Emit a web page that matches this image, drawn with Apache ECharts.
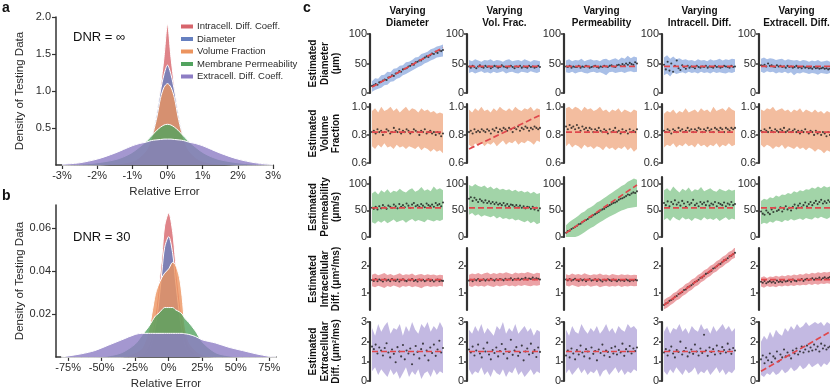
<!DOCTYPE html>
<html>
<head>
<meta charset="utf-8">
<script src="https://cdn.jsdelivr.net/npm/echarts@6/dist/echarts.min.js"></script>
<style>
  html, body { margin: 0; padding: 0; background: #fff; }
  #chart { width: 830px; height: 391px; }
</style>
</head>
<body>
<div id="chart"></div>
<script>
// ---- panel a / b : error densities ----
const seriesNames = ['Intracell. Diff. Coeff.', 'Diameter', 'Volume Fraction', 'Membrane Permeability', 'Extracell. Diff. Coeff.'];

const aX = [-3, -2.5, -2, -1.5, -1.25, -1, -0.8, -0.6, -0.5, -0.4, -0.3, -0.2, -0.1, 0, 0.1, 0.2, 0.3, 0.4, 0.5, 0.6, 0.8, 1, 1.25, 1.5, 2, 2.5, 3];
const aIntra = [0, 0, 0, 0.01, 0.02, 0.04, 0.09, 0.2, 0.32, 0.48, 0.72, 1.05, 1.45, 1.9, 1.45, 1.05, 0.72, 0.48, 0.32, 0.2, 0.09, 0.04, 0.02, 0.01, 0, 0, 0];
const aDiam = [0, 0.001, 0.003, 0.012, 0.025, 0.05, 0.1, 0.2, 0.32, 0.48, 0.72, 1.0, 1.22, 1.35, 1.22, 1.0, 0.72, 0.48, 0.32, 0.2, 0.1, 0.05, 0.025, 0.012, 0.003, 0.001, 0];
const aVol = [0, 0.002, 0.004, 0.012, 0.025, 0.05, 0.1, 0.2, 0.3, 0.45, 0.65, 0.9, 1.05, 1.1, 1.05, 0.9, 0.65, 0.45, 0.3, 0.2, 0.1, 0.05, 0.025, 0.012, 0.004, 0.002, 0];
const aPerm = [0, 0.01, 0.03, 0.07, 0.11, 0.17, 0.24, 0.32, 0.37, 0.42, 0.47, 0.51, 0.54, 0.55, 0.54, 0.51, 0.47, 0.42, 0.37, 0.32, 0.24, 0.17, 0.11, 0.07, 0.03, 0.01, 0];
const aExtra = [0.01, 0.03, 0.08, 0.16, 0.21, 0.26, 0.29, 0.31, 0.325, 0.335, 0.34, 0.345, 0.35, 0.35, 0.35, 0.345, 0.34, 0.335, 0.325, 0.31, 0.29, 0.26, 0.21, 0.16, 0.08, 0.03, 0.01];

const bX = [-80, -75, -65, -55, -45, -35, -25, -20, -15, -12, -10, -8, -5, -3, 0, 3, 5, 8, 10, 12, 15, 20, 25, 35, 45, 55, 65, 75, 80];
const bIntra = [0, 0, 0, 0, 0, 0, 0, 0.001, 0.005, 0.012, 0.02, 0.03, 0.047, 0.061, 0.067, 0.058, 0.045, 0.028, 0.018, 0.011, 0.005, 0.001, 0, 0, 0, 0, 0, 0, 0];
const bDiam = [0, 0, 0, 0, 0, 0, 0, 0.001, 0.003, 0.008, 0.014, 0.022, 0.04, 0.051, 0.056, 0.048, 0.036, 0.02, 0.012, 0.006, 0.002, 0.001, 0, 0, 0, 0, 0, 0, 0];
const bVol = [0, 0, 0, 0, 0, 0, 0.002, 0.004, 0.012, 0.022, 0.029, 0.033, 0.037, 0.039, 0.041, 0.044, 0.043, 0.037, 0.028, 0.015, 0.007, 0.003, 0.001, 0, 0, 0, 0, 0, 0];
const bPerm = [0, 0, 0, 0, 0.0005, 0.002, 0.006, 0.01, 0.014, 0.017, 0.019, 0.02, 0.022, 0.023, 0.023, 0.023, 0.022, 0.021, 0.02, 0.018, 0.016, 0.012, 0.007, 0.002, 0.0005, 0, 0, 0, 0];
const bExtra = [0, 0.0005, 0.0015, 0.003, 0.0055, 0.008, 0.0105, 0.011, 0.011, 0.011, 0.011, 0.011, 0.011, 0.011, 0.011, 0.011, 0.011, 0.011, 0.011, 0.0108, 0.0105, 0.0095, 0.008, 0.0065, 0.0045, 0.003, 0.0015, 0.0003, 0];

const aTicksX = [-3, -2, -1, 0, 1, 2, 3];
const aTicksY = [0.5, 1.0, 1.5, 2.0];
const bTicksX = [-75, -50, -25, 0, 25, 50, 75];
const bTicksY = [0.02, 0.04, 0.06];

// ---- panel c : estimated vs. varied parameter ----
const colNames = ['Diameter', 'Vol. Frac.', 'Permeability', 'Intracell. Diff.', 'Extracell. Diff.'];
const rowLabels = [
  ['Estimated', 'Diameter', '(μm)'],
  ['Estimated', 'Volume', 'Fraction'],
  ['Estimated', 'Permeability', '(μm/s)'],
  ['Estimated', 'Intracellular', 'Diff. (μm²/ms)'],
  ['Estimated', 'Extracellular', 'Diff. (μm²/ms)']
];
const rowMin = [0, 0.6, 0, 0.37, 0];
const rowMax = [100, 1.02, 113, 2.67, 3];
const rowTicks = [[0, 50, 100], [0.6, 0.8, 1.0], [0, 50, 100], [1, 2], [0, 1, 2, 3]];
const truthConst = [45, 0.82, 55, 1.5, 1.5];
const colRange = [[10, 77], [0.70, 0.94], [7.5, 98], [0.55, 2.5], [0.5, 2.5]];

// estimated diameter, one list per varied column
const diamPts = [
  [12, 13, 15, 14, 18, 19, 21, 23, 22, 26, 27, 30, 29, 33, 34, 37, 36, 40, 41, 42, 45, 46, 49, 48, 52, 53, 55, 55, 58, 60, 62, 61, 64, 67, 66, 70, 68, 72, 71, 73],
  [45, 43, 46, 44, 42, 45, 47, 44, 43, 46, 44, 45, 42, 44, 46, 45, 43, 44, 47, 45, 44, 43, 45, 46, 44, 42, 45, 44, 46, 43, 45, 44, 43, 46, 44, 45, 43, 44, 46, 44],
  [45, 44, 46, 43, 45, 44, 44, 46, 43, 45, 44, 46, 45, 43, 44, 45, 46, 44, 43, 45, 44, 46, 45, 44, 46, 47, 45, 44, 47, 48, 46, 49, 47, 50, 48, 51, 49, 48, 52, 50],
  [48, 40, 53, 38, 50, 36, 46, 55, 42, 39, 47, 44, 41, 46, 43, 45, 44, 42, 46, 44, 43, 45, 44, 46, 43, 45, 44, 43, 46, 44, 45, 43, 44, 46, 45, 44, 43, 46, 44, 45],
  [47, 46, 48, 45, 50, 46, 47, 45, 44, 47, 45, 46, 44, 45, 43, 46, 44, 45, 43, 44, 46, 43, 44, 42, 45, 43, 44, 42, 43, 41, 44, 42, 43, 41, 42, 43, 41, 42, 40, 41]
];
const diamHi = [
  [20, 25, 24, 30, 31, 36, 35, 41, 42, 46, 47, 52, 53, 56, 60, 61, 66, 68, 70, 74, 76, 79, 80, 82],
  [56, 54, 57, 55, 53, 56, 55, 57, 54, 56, 55, 53, 56, 57, 54, 55, 56, 54, 57, 55, 53, 56, 55, 54],
  [55, 57, 54, 56, 55, 58, 54, 56, 57, 55, 56, 54, 57, 58, 55, 57, 59, 56, 60, 58, 63, 59, 62, 60],
  [60, 64, 58, 62, 57, 59, 56, 57, 55, 56, 54, 57, 55, 56, 54, 57, 55, 56, 58, 55, 57, 56, 58, 57],
  [58, 60, 57, 59, 58, 56, 57, 58, 55, 57, 56, 55, 56, 54, 56, 55, 53, 55, 54, 56, 53, 54, 55, 53]
];
const diamLo = [
  [2, 5, 7, 9, 13, 14, 19, 20, 24, 26, 30, 32, 35, 38, 41, 44, 46, 50, 52, 55, 57, 60, 61, 62],
  [34, 36, 33, 35, 37, 34, 35, 33, 36, 34, 35, 37, 33, 35, 36, 34, 33, 36, 35, 34, 37, 35, 34, 36],
  [35, 34, 36, 33, 35, 36, 34, 33, 35, 36, 34, 35, 33, 30, 35, 36, 34, 35, 36, 34, 36, 37, 35, 36],
  [30, 33, 28, 35, 32, 34, 35, 33, 36, 34, 35, 33, 36, 34, 35, 33, 36, 34, 35, 34, 33, 35, 34, 36],
  [36, 34, 37, 35, 36, 33, 35, 34, 36, 33, 35, 30, 34, 33, 35, 34, 32, 34, 33, 31, 34, 33, 32, 34]
];

// estimated volume fraction
const volPts = [
  [0.82, 0.83, 0.81, 0.84, 0.82, 0.83, 0.80, 0.82, 0.84, 0.83, 0.81, 0.82, 0.85, 0.83, 0.82, 0.84, 0.81, 0.83, 0.82, 0.84, 0.83, 0.81, 0.82, 0.84, 0.83, 0.82, 0.80, 0.83, 0.82, 0.84, 0.81, 0.82, 0.83, 0.81, 0.82, 0.80, 0.82, 0.81, 0.79, 0.81],
  [0.82, 0.83, 0.81, 0.84, 0.82, 0.83, 0.82, 0.84, 0.83, 0.82, 0.84, 0.83, 0.81, 0.84, 0.83, 0.85, 0.82, 0.84, 0.83, 0.85, 0.84, 0.83, 0.85, 0.84, 0.82, 0.85, 0.84, 0.86, 0.83, 0.85, 0.84, 0.86, 0.85, 0.83, 0.85, 0.84, 0.86, 0.85, 0.84, 0.85],
  [0.86, 0.84, 0.87, 0.85, 0.86, 0.84, 0.87, 0.85, 0.83, 0.86, 0.84, 0.85, 0.83, 0.85, 0.84, 0.82, 0.84, 0.83, 0.85, 0.83, 0.82, 0.84, 0.83, 0.81, 0.84, 0.82, 0.83, 0.85, 0.82, 0.83, 0.81, 0.84, 0.82, 0.83, 0.81, 0.84, 0.82, 0.83, 0.82, 0.84],
  [0.83, 0.82, 0.84, 0.83, 0.81, 0.84, 0.83, 0.82, 0.85, 0.83, 0.84, 0.82, 0.83, 0.85, 0.83, 0.84, 0.82, 0.84, 0.83, 0.85, 0.84, 0.82, 0.84, 0.83, 0.85, 0.83, 0.84, 0.82, 0.85, 0.84, 0.83, 0.85, 0.84, 0.82, 0.85, 0.84, 0.83, 0.85, 0.84, 0.85],
  [0.83, 0.82, 0.84, 0.83, 0.82, 0.85, 0.83, 0.82, 0.84, 0.83, 0.82, 0.84, 0.83, 0.85, 0.82, 0.83, 0.84, 0.82, 0.83, 0.84, 0.82, 0.83, 0.81, 0.83, 0.82, 0.84, 0.82, 0.81, 0.83, 0.82, 0.80, 0.83, 0.81, 0.82, 0.80, 0.82, 0.81, 0.79, 0.82, 0.80]
];
const volHi = [
  [0.97, 0.99, 0.96, 1.0, 0.97, 0.98, 1.0, 0.97, 0.99, 0.96, 0.98, 1.0, 0.97, 0.99, 0.98, 0.96, 0.99, 0.97, 0.98, 0.96, 0.97, 0.95, 0.96, 0.95],
  [0.98, 0.96, 0.99, 0.97, 1.0, 0.97, 0.98, 0.96, 0.99, 0.97, 1.0, 0.98, 0.97, 0.99, 0.97, 1.0, 0.98, 0.97, 0.99, 0.98, 1.0, 0.97, 0.99, 0.98],
  [0.99, 1.0, 0.98, 1.0, 0.99, 0.97, 1.0, 0.98, 0.99, 0.97, 0.98, 1.0, 0.97, 0.98, 0.96, 0.98, 0.97, 0.99, 0.96, 0.98, 0.97, 0.96, 0.98, 0.97],
  [0.95, 0.97, 0.96, 0.98, 0.95, 0.97, 0.96, 0.99, 0.96, 0.97, 0.98, 0.96, 0.99, 0.97, 0.98, 0.96, 1.0, 0.97, 0.98, 0.99, 0.97, 1.0, 0.98, 0.97],
  [0.98, 0.97, 0.99, 0.98, 1.0, 0.97, 0.98, 0.99, 0.97, 0.98, 0.96, 0.98, 0.97, 0.99, 0.96, 0.98, 0.97, 0.96, 0.98, 0.96, 0.97, 0.95, 0.97, 0.96]
];
const volLo = [
  [0.72, 0.70, 0.73, 0.71, 0.74, 0.71, 0.72, 0.70, 0.73, 0.71, 0.72, 0.70, 0.72, 0.71, 0.70, 0.72, 0.69, 0.71, 0.70, 0.68, 0.70, 0.68, 0.69, 0.67],
  [0.73, 0.71, 0.74, 0.72, 0.75, 0.72, 0.74, 0.73, 0.75, 0.72, 0.74, 0.76, 0.73, 0.75, 0.74, 0.76, 0.73, 0.75, 0.74, 0.76, 0.75, 0.73, 0.76, 0.75],
  [0.72, 0.74, 0.71, 0.73, 0.72, 0.70, 0.73, 0.71, 0.72, 0.70, 0.72, 0.71, 0.69, 0.72, 0.70, 0.71, 0.69, 0.71, 0.70, 0.72, 0.69, 0.71, 0.68, 0.70],
  [0.71, 0.73, 0.72, 0.74, 0.71, 0.73, 0.72, 0.74, 0.72, 0.73, 0.71, 0.74, 0.72, 0.73, 0.71, 0.73, 0.72, 0.74, 0.71, 0.73, 0.72, 0.74, 0.72, 0.73],
  [0.73, 0.71, 0.73, 0.72, 0.70, 0.72, 0.71, 0.73, 0.70, 0.72, 0.71, 0.70, 0.72, 0.70, 0.71, 0.69, 0.71, 0.70, 0.68, 0.70, 0.69, 0.67, 0.69, 0.68]
];

// estimated membrane permeability
const permPts = [
  [55, 53, 57, 52, 58, 54, 60, 56, 53, 59, 57, 55, 61, 58, 54, 62, 57, 60, 56, 63, 59, 55, 61, 64, 58, 60, 57, 62, 59, 56, 63, 60, 58, 61, 57, 64, 60, 62, 58, 65],
  [72, 75, 68, 74, 70, 66, 71, 68, 65, 69, 64, 67, 63, 66, 62, 65, 61, 63, 60, 64, 59, 62, 58, 61, 60, 57, 60, 56, 59, 55, 58, 54, 57, 56, 53, 57, 52, 55, 50, 54],
  [8, 11, 12, 15, 17, 19, 21, 24, 25, 28, 30, 32, 34, 37, 38, 41, 43, 45, 47, 50, 52, 53, 56, 58, 60, 62, 64, 65, 67, 70, 72, 73, 75, 77, 80, 79, 82, 84, 83, 86],
  [64, 60, 67, 58, 66, 62, 69, 61, 65, 59, 68, 63, 57, 66, 61, 64, 70, 60, 63, 58, 66, 62, 65, 60, 67, 59, 63, 61, 66, 58, 64, 62, 60, 65, 58, 63, 61, 66, 60, 62],
  [48, 44, 42, 50, 46, 43, 52, 47, 55, 49, 51, 56, 48, 53, 58, 52, 55, 50, 57, 61, 54, 59, 63, 56, 60, 65, 58, 62, 66, 60, 64, 68, 62, 66, 70, 63, 67, 64, 69, 66]
];
const permHi = [
  [82, 86, 80, 88, 84, 90, 83, 87, 85, 91, 86, 84, 89, 92, 85, 88, 94, 87, 90, 86, 95, 89, 92, 88],
  [98, 95, 100, 96, 94, 97, 92, 95, 90, 93, 89, 91, 88, 90, 86, 89, 85, 87, 84, 86, 82, 85, 81, 83],
  [22, 28, 32, 36, 40, 45, 48, 53, 56, 60, 65, 68, 72, 76, 80, 84, 88, 92, 96, 99, 104, 107, 110, 108],
  [88, 92, 86, 95, 89, 84, 91, 87, 93, 85, 90, 88, 94, 86, 89, 92, 87, 85, 91, 88, 86, 90, 87, 89],
  [68, 72, 70, 75, 73, 78, 76, 80, 79, 83, 81, 86, 84, 88, 86, 90, 89, 93, 91, 95, 92, 96, 93, 95]
];
const permLo = [
  [28, 25, 30, 27, 31, 26, 29, 33, 28, 30, 32, 27, 31, 34, 29, 32, 30, 28, 33, 31, 29, 32, 30, 33],
  [42, 45, 40, 43, 38, 41, 39, 37, 40, 35, 38, 34, 36, 33, 35, 31, 33, 30, 28, 31, 26, 29, 24, 27],
  [0, 0, 0, 0, 2, 5, 9, 13, 17, 20, 24, 28, 31, 35, 38, 41, 44, 47, 50, 52, 54, 55, 56, 57],
  [32, 36, 30, 38, 34, 31, 37, 33, 35, 30, 36, 34, 31, 37, 33, 35, 32, 36, 30, 34, 37, 32, 35, 33],
  [24, 27, 25, 29, 27, 31, 30, 28, 32, 30, 34, 31, 33, 35, 32, 36, 34, 33, 37, 35, 38, 36, 34, 37]
];

// estimated intracellular diffusivity
const intraPts = [
  [1.48, 1.45, 1.52, 1.44, 1.50, 1.47, 1.43, 1.51, 1.46, 1.49, 1.44, 1.52, 1.47, 1.45, 1.50, 1.43, 1.48, 1.51, 1.46, 1.44, 1.49, 1.47, 1.52, 1.45, 1.48, 1.43, 1.50, 1.46, 1.49, 1.44, 1.47, 1.51, 1.45, 1.48, 1.43, 1.47, 1.50, 1.44, 1.46, 1.45],
  [1.46, 1.49, 1.44, 1.50, 1.47, 1.52, 1.45, 1.48, 1.51, 1.46, 1.50, 1.47, 1.53, 1.49, 1.46, 1.51, 1.48, 1.52, 1.50, 1.47, 1.53, 1.49, 1.51, 1.55, 1.48, 1.52, 1.50, 1.54, 1.49, 1.53, 1.51, 1.56, 1.50, 1.54, 1.52, 1.57, 1.51, 1.55, 1.53, 1.50],
  [1.50, 1.47, 1.52, 1.46, 1.49, 1.53, 1.48, 1.45, 1.51, 1.47, 1.50, 1.44, 1.49, 1.52, 1.46, 1.48, 1.51, 1.45, 1.50, 1.47, 1.43, 1.49, 1.46, 1.51, 1.48, 1.45, 1.50, 1.47, 1.44, 1.49, 1.46, 1.48, 1.45, 1.50, 1.47, 1.44, 1.48, 1.46, 1.49, 1.47],
  [0.56, 0.61, 0.64, 0.71, 0.74, 0.79, 0.86, 0.89, 0.96, 0.99, 1.04, 1.11, 1.13, 1.21, 1.24, 1.29, 1.34, 1.41, 1.44, 1.49, 1.56, 1.58, 1.64, 1.71, 1.74, 1.79, 1.83, 1.91, 1.94, 1.99, 2.06, 2.08, 2.14, 2.21, 2.23, 2.29, 2.36, 2.38, 2.44, 2.49],
  [1.42, 1.38, 1.45, 1.36, 1.41, 1.44, 1.39, 1.43, 1.37, 1.46, 1.41, 1.44, 1.40, 1.47, 1.43, 1.45, 1.48, 1.42, 1.50, 1.46, 1.44, 1.49, 1.47, 1.52, 1.45, 1.50, 1.53, 1.48, 1.51, 1.55, 1.49, 1.54, 1.52, 1.57, 1.50, 1.55, 1.58, 1.53, 1.56, 1.59]
];
const intraHi = [
  [1.68, 1.72, 1.66, 1.70, 1.74, 1.67, 1.71, 1.65, 1.69, 1.73, 1.66, 1.70, 1.68, 1.72, 1.65, 1.69, 1.71, 1.66, 1.70, 1.67, 1.69, 1.65, 1.68, 1.66],
  [1.68, 1.72, 1.70, 1.74, 1.69, 1.73, 1.76, 1.70, 1.74, 1.71, 1.75, 1.72, 1.77, 1.73, 1.70, 1.76, 1.72, 1.75, 1.73, 1.78, 1.74, 1.71, 1.75, 1.73],
  [1.70, 1.66, 1.72, 1.68, 1.71, 1.67, 1.73, 1.69, 1.66, 1.70, 1.68, 1.72, 1.67, 1.69, 1.65, 1.71, 1.68, 1.66, 1.70, 1.67, 1.69, 1.66, 1.68, 1.67],
  [0.74, 0.82, 0.88, 0.99, 1.05, 1.16, 1.22, 1.33, 1.39, 1.50, 1.56, 1.67, 1.73, 1.84, 1.90, 2.01, 2.07, 2.18, 2.24, 2.35, 2.41, 2.52, 2.58, 2.70],
  [1.58, 1.62, 1.56, 1.61, 1.59, 1.64, 1.60, 1.65, 1.62, 1.67, 1.64, 1.69, 1.66, 1.71, 1.68, 1.73, 1.70, 1.75, 1.72, 1.77, 1.74, 1.78, 1.76, 1.79]
];
const intraLo = [
  [1.25, 1.21, 1.27, 1.23, 1.19, 1.26, 1.22, 1.28, 1.24, 1.20, 1.26, 1.23, 1.27, 1.21, 1.25, 1.22, 1.18, 1.24, 1.26, 1.22, 1.25, 1.23, 1.27, 1.24],
  [1.26, 1.22, 1.28, 1.24, 1.27, 1.23, 1.29, 1.25, 1.22, 1.28, 1.24, 1.27, 1.30, 1.25, 1.28, 1.24, 1.29, 1.26, 1.30, 1.27, 1.25, 1.29, 1.27, 1.30],
  [1.28, 1.24, 1.30, 1.26, 1.22, 1.27, 1.25, 1.29, 1.23, 1.26, 1.28, 1.21, 1.25, 1.27, 1.23, 1.26, 1.24, 1.28, 1.22, 1.26, 1.24, 1.27, 1.25, 1.26],
  [0.40, 0.45, 0.55, 0.62, 0.72, 0.78, 0.89, 0.95, 1.06, 1.12, 1.23, 1.29, 1.40, 1.46, 1.57, 1.63, 1.74, 1.80, 1.91, 1.97, 2.08, 2.14, 2.25, 2.31],
  [1.24, 1.20, 1.26, 1.22, 1.25, 1.21, 1.27, 1.24, 1.28, 1.25, 1.29, 1.26, 1.30, 1.28, 1.31, 1.29, 1.33, 1.30, 1.34, 1.31, 1.35, 1.33, 1.36, 1.34]
];

// estimated extracellular diffusivity
const extraPts = [
  [1.75, 1.62, 1.85, 1.40, 1.70, 1.55, 1.30, 1.68, 1.92, 1.45, 1.20, 1.60, 1.38, 0.95, 1.72, 1.50, 1.25, 1.83, 1.10, 1.55, 1.40, 1.65, 0.85, 1.35, 1.78, 1.48, 1.15, 1.62, 1.90, 1.30, 1.55, 1.05, 1.70, 1.42, 1.85, 1.28, 1.60, 2.05, 1.45, 1.68],
  [1.60, 1.45, 1.75, 1.30, 1.55, 1.85, 1.40, 1.20, 1.65, 1.50, 1.95, 1.35, 1.10, 1.58, 1.42, 1.70, 1.25, 1.52, 1.88, 1.38, 1.62, 1.15, 1.48, 2.10, 1.33, 1.55, 1.72, 1.28, 1.45, 1.80, 1.05, 1.50, 1.65, 1.35, 1.90, 1.42, 1.58, 1.22, 1.70, 1.48],
  [1.30, 1.55, 1.20, 1.65, 1.40, 1.10, 1.58, 1.35, 1.80, 1.45, 1.25, 1.62, 1.50, 1.15, 1.70, 1.38, 1.52, 1.05, 1.60, 1.42, 1.85, 1.30, 1.55, 1.48, 1.22, 1.68, 1.40, 1.75, 1.35, 1.58, 1.45, 1.90, 1.28, 1.62, 1.50, 1.78, 1.40, 1.65, 1.52, 1.70],
  [1.45, 1.62, 1.30, 1.55, 1.75, 1.40, 1.20, 1.58, 1.48, 2.0, 1.35, 1.52, 1.68, 1.25, 1.45, 1.60, 1.38, 1.85, 1.50, 1.30, 1.65, 1.42, 2.35, 1.55, 1.28, 1.70, 1.48, 1.62, 1.35, 1.80, 1.52, 1.40, 1.72, 1.58, 1.45, 1.90, 1.60, 1.38, 1.68, 1.55],
  [1.10, 1.30, 0.90, 1.20, 1.05, 1.40, 0.95, 1.25, 1.15, 1.50, 1.00, 1.35, 1.20, 1.60, 1.25, 1.45, 1.30, 1.15, 1.55, 1.40, 1.65, 1.35, 1.50, 1.75, 1.45, 1.60, 1.80, 1.50, 1.70, 1.55, 1.85, 1.60, 1.75, 1.50, 1.90, 1.65, 1.80, 1.60, 1.70, 1.75]
];
const extraHi = [
  [2.7, 2.3, 2.9, 2.5, 2.8, 3.0, 2.4, 2.7, 2.6, 2.9, 2.3, 2.8, 2.5, 3.0, 2.6, 2.4, 2.9, 2.7, 3.0, 2.5, 2.8, 2.6, 3.0, 2.7],
  [2.6, 2.4, 2.8, 2.5, 2.9, 2.4, 2.7, 2.5, 2.3, 2.8, 2.6, 3.0, 2.4, 2.7, 2.5, 2.9, 2.4, 2.6, 2.8, 2.5, 2.7, 2.3, 2.6, 2.5],
  [2.6, 2.3, 2.8, 2.5, 2.4, 2.9, 2.6, 2.4, 2.7, 2.5, 2.8, 2.4, 2.6, 2.9, 2.5, 2.7, 2.4, 2.8, 2.6, 2.5, 2.9, 2.7, 2.8, 2.6],
  [2.5, 2.8, 2.4, 2.7, 2.6, 2.9, 2.5, 2.7, 2.4, 2.8, 2.6, 2.5, 2.9, 2.6, 2.7, 2.4, 2.8, 2.5, 2.7, 2.9, 2.6, 2.8, 2.5, 2.7],
  [2.0, 2.3, 2.1, 2.5, 2.2, 2.6, 2.4, 2.3, 2.7, 2.5, 2.8, 2.6, 2.9, 2.7, 2.8, 3.0, 2.8, 2.9, 3.0, 2.9, 3.0, 2.8, 3.0, 2.9]
];
const extraLo = [
  [0.5, 0.7, 0.3, 0.6, 0.4, 0.2, 0.6, 0.3, 0.5, 0.1, 0.4, 0.7, 0.2, 0.5, 0.3, 0.6, 0.1, 0.4, 0.5, 0.2, 0.6, 0.3, 0.5, 0.4],
  [0.6, 0.3, 0.5, 0.4, 0.7, 0.3, 0.5, 0.2, 0.6, 0.4, 0.3, 0.6, 0.2, 0.5, 0.4, 0.7, 0.3, 0.5, 0.2, 0.4, 0.6, 0.3, 0.5, 0.4],
  [0.4, 0.6, 0.3, 0.5, 0.7, 0.4, 0.6, 0.3, 0.5, 0.4, 0.6, 0.2, 0.5, 0.6, 0.3, 0.5, 0.7, 0.4, 0.6, 0.3, 0.5, 0.4, 0.6, 0.5],
  [0.5, 0.3, 0.6, 0.4, 0.7, 0.5, 0.3, 0.6, 0.4, 0.5, 0.7, 0.3, 0.5, 0.4, 0.6, 0.3, 0.5, 0.7, 0.4, 0.6, 0.3, 0.5, 0.4, 0.6],
  [0.3, 0.2, 0.4, 0.3, 0.5, 0.3, 0.4, 0.6, 0.4, 0.5, 0.7, 0.5, 0.6, 0.8, 0.6, 0.7, 0.9, 0.7, 0.8, 0.9, 0.7, 0.9, 0.8, 1.0]
];

// ---------------------------------------------------------------
const densityColors = ['#d7656c', '#6680c0', '#ec945f', '#52a35f', '#8d7dc4'];
const bandColors = ['#a9bfe7', '#f3bd9f', '#a2d4a8', '#eca2a6', '#c3b9e2'];
const rowPts = [diamPts, volPts, permPts, intraPts, extraPts];
const rowHi = [diamHi, volHi, permHi, intraHi, extraHi];
const rowLo = [diamLo, volLo, permLo, intraLo, extraLo];

const textColor = '#2b2b2b';
const axisColor = '#333';
const fontFam = 'Liberation Sans, Arial, sans-serif';

const colLeft = [372, 469, 566, 664, 761];
const plotW = 71;
const rowTop = [34, 104, 177, 248, 322];
const rowH = [59, 59, 60, 62, 59];

const chart = echarts.init(document.getElementById('chart'), null, { renderer: 'canvas' });

const grids = [];
const xAxes = [];
const yAxes = [];
const series = [];
const graphics = [];

function pctAxis(gridIndex, min, max, ticks) {
  return {
    type: 'value', gridIndex, min, max,
    axisLine: { show: true, onZero: false, lineStyle: { color: axisColor, width: 1.5 } },
    axisTick: { show: true, length: 4, customValues: ticks, lineStyle: { color: axisColor, width: 1.2 } },
    axisLabel: { customValues: ticks, color: textColor, fontSize: 11, fontFamily: fontFam, margin: 5, formatter: v => v + '%' },
    splitLine: { show: false },
    name: 'Relative Error', nameLocation: 'middle', nameGap: 21,
    nameTextStyle: { color: textColor, fontSize: 11.5, fontFamily: fontFam }
  };
}
function densAxis(gridIndex, min, max, ticks, digits) {
  return {
    type: 'value', gridIndex, min, max,
    axisLine: { show: true, onZero: false, lineStyle: { color: axisColor, width: 1.5 } },
    axisTick: { show: true, length: 4, customValues: ticks, lineStyle: { color: axisColor, width: 1.2 } },
    axisLabel: { customValues: ticks, color: textColor, fontSize: 11, fontFamily: fontFam, margin: 5, formatter: v => v.toFixed(digits) },
    splitLine: { show: false },
    name: 'Density of Testing Data', nameLocation: 'middle', nameGap: 30,
    nameTextStyle: { color: textColor, fontSize: 11.5, fontFamily: fontFam }
  };
}

// panel a
grids.push({ left: 56, top: 17, width: 217, height: 148 });
xAxes.push(pctAxis(0, -3.17, 3, aTicksX));
yAxes.push(densAxis(0, 0, 2, aTicksY, 1));
// panel b
grids.push({ left: 56, top: 205, width: 220, height: 152 });
xAxes.push(pctAxis(1, -84, 80, bTicksX));
yAxes.push(densAxis(1, 0, 0.0707, bTicksY, 2));

const aSets = [aIntra, aDiam, aVol, aPerm, aExtra];
const bSets = [bIntra, bDiam, bVol, bPerm, bExtra];
[[aX, aSets], [bX, bSets]].forEach(([xs, sets], p) => {
  sets.forEach((ys, k) => {
    series.push({
      name: seriesNames[k], type: 'line', xAxisIndex: p, yAxisIndex: p,
      data: xs.map((x, i) => [x, ys[i]]),
      smooth: 0.3, symbol: 'none', silent: true, z: 2 + k,
      itemStyle: { color: densityColors[k] },
      lineStyle: { color: '#ffffff', width: 1 },
      areaStyle: { color: densityColors[k], opacity: 0.8 }
    });
  });
});

// band between lo and hi, drawn as one polygon per panel
function bandSeries(gi, lo, hi, color) {
  const nb = lo.length;
  const data = lo.map((v, i) => [i / (nb - 1), v, hi[i]]);
  return {
    type: 'custom', xAxisIndex: gi, yAxisIndex: gi, silent: true, z: 2,
    data,
    encode: { x: 0, y: [1, 2] },
    renderItem: (params, api) => {
      if (params.dataIndex !== 0) return null;
      const top = data.map(d => api.coord([d[0], d[2]]));
      const bot = data.map(d => api.coord([d[0], d[1]])).reverse();
      const cs = params.coordSys;
      return {
        type: 'polygon',
        shape: { points: top.concat(bot) },
        style: { fill: color },
        clipPath: { type: 'rect', shape: { x: cs.x, y: cs.y, width: cs.width, height: cs.height } }
      };
    }
  };
}

// panel c
let gi = 2;
for (let r = 0; r < 5; r++) {
  for (let c = 0; c < 5; c++) {
    grids.push({ left: colLeft[c], top: rowTop[r], width: plotW, height: rowH[r] });
    xAxes.push({ type: 'value', gridIndex: gi, min: 0, max: 1, show: false });
    const digits = r === 1 ? 1 : 0;
    yAxes.push({
      type: 'value', gridIndex: gi, min: rowMin[r], max: rowMax[r], offset: 2,
      axisLine: { show: true, onZero: false, lineStyle: { color: axisColor, width: 2.2 } },
      axisTick: { show: true, length: 3, customValues: rowTicks[r], lineStyle: { color: axisColor, width: 1.5 } },
      axisLabel: { customValues: rowTicks[r], color: textColor, fontSize: 11, fontFamily: fontFam, margin: 3, formatter: v => v.toFixed(digits) },
      splitLine: { show: false }
    });
    const hi = rowHi[r][c], lo = rowLo[r][c], pts = rowPts[r][c];
    series.push(bandSeries(gi, lo, hi, bandColors[r]));
    const np = pts.length;
    series.push({
      type: 'scatter', xAxisIndex: gi, yAxisIndex: gi, silent: true,
      data: pts.map((v, i) => [i / (np - 1), v]),
      symbolSize: 2.1, itemStyle: { color: '#1a1a1a' }, z: 4
    });
    const truth = r === c ? colRange[c] : [truthConst[r], truthConst[r]];
    series.push({
      type: 'line', xAxisIndex: gi, yAxisIndex: gi, silent: true,
      data: [[0, truth[0]], [1, truth[1]]],
      symbol: 'none', z: 5,
      lineStyle: { color: '#e0474c', width: 1.7, type: [6, 3] }
    });
    gi++;
  }
}

// text
const bold = { fontWeight: 'bold', fill: '#111', fontFamily: fontFam };
graphics.push({ type: 'text', left: 2, top: 1, style: Object.assign({ text: 'a', fontSize: 14 }, bold) });
graphics.push({ type: 'text', left: 2, top: 189, style: Object.assign({ text: 'b', fontSize: 14 }, bold) });
graphics.push({ type: 'text', left: 303, top: 1, style: Object.assign({ text: 'c', fontSize: 14 }, bold) });
graphics.push({ type: 'text', left: 73, top: 31, style: { text: 'DNR = ∞', fontSize: 13, fill: '#111', fontFamily: fontFam } });
graphics.push({ type: 'text', left: 73, top: 231, style: { text: 'DNR = 30', fontSize: 13, fill: '#111', fontFamily: fontFam } });
colNames.forEach((n, c) => {
  graphics.push({
    type: 'text', x: colLeft[c] + plotW / 2, y: 17,
    style: Object.assign({ text: 'Varying\n' + n, fontSize: 10, lineHeight: 12, align: 'center', verticalAlign: 'middle' }, bold)
  });
});
rowLabels.forEach((lines, r) => {
  graphics.push({
    type: 'text', x: 325, y: rowTop[r] + rowH[r] / 2, rotation: Math.PI / 2,
    style: Object.assign({ text: lines.join('\n'), fontSize: 10, lineHeight: 11.5, align: 'center', verticalAlign: 'middle' }, bold)
  });
});

chart.setOption({
  backgroundColor: '#fff',
  animation: false,
  grid: grids,
  xAxis: xAxes,
  yAxis: yAxes,
  legend: {
    data: seriesNames, orient: 'vertical', left: 176, top: 16,
    icon: 'rect', itemWidth: 12, itemHeight: 4, itemGap: 1.5,
    itemStyle: { borderWidth: 0 },
    textStyle: { fontSize: 9.5, color: textColor, fontFamily: fontFam, lineHeight: 11, padding: [0, 0, 0, -1] },
    selectedMode: false
  },
  graphic: graphics,
  series
});
</script>
</body>
</html>
